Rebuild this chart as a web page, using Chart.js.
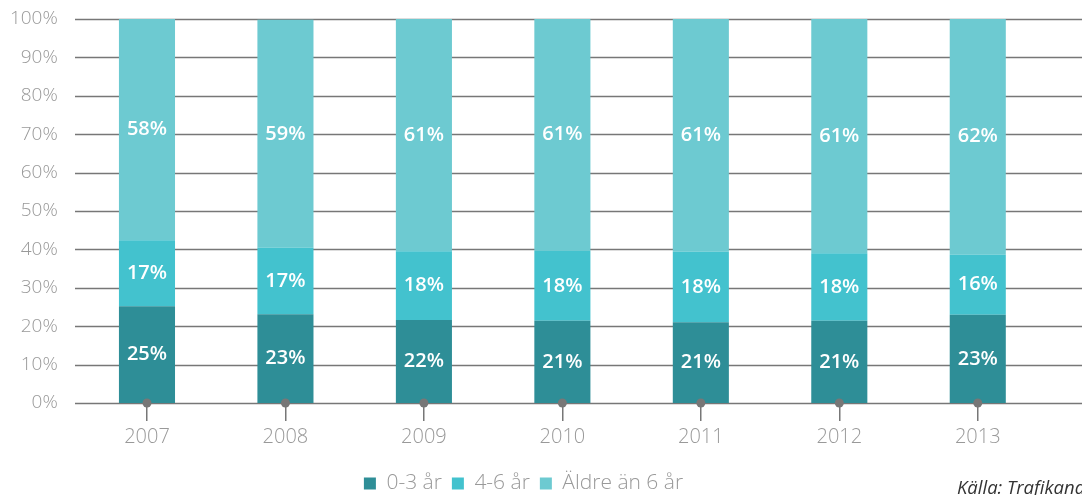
<!DOCTYPE html>
<html>
<head>
<meta charset="utf-8">
<script src="https://cdn.jsdelivr.net/npm/chart.js@4"></script>
<style>
  html, body { margin: 0; padding: 0; background: #fff; overflow: hidden; }
  #wrap { position: relative; width: 1082px; height: 495px; overflow: hidden; }
  #source {
    position: absolute; left: 957px; top: 474px; white-space: nowrap;
    font-family: 'Open Sans', sans-serif; font-style: italic; font-size: 18.5px; color: #333;
  }
</style>
</head>
<body>
<div id="wrap">
  <canvas id="chart" width="1082" height="495"></canvas>
  <div id="source">Källa: Trafikanalys</div>
</div>
<script>
const years = ['2007', '2008', '2009', '2010', '2011', '2012', '2013'];
const age0to3 = [25.2, 23.1, 21.6, 21.4, 21.0, 21.4, 23.0];
const age4to6 = [17.2, 17.3, 17.9, 18.2, 18.4, 17.6, 15.6];
const olderThan6 = [57.6, 59.4, 60.5, 60.5, 60.6, 61.0, 61.5];
const seriesNames = ['0-3 år', '4-6 år', 'Äldre än 6 år'];
const seriesColors = ['#2e8e97', '#43c2ce', '#6dcad1'];

const FONT = "'Open Sans', sans-serif";
const GRID = '#777777';

// grid lines across the full width, behind the bars
const gridPlugin = {
    id: 'fullGrid',
    beforeDatasetsDraw(chart) {
        const ctx = chart.ctx;
        const y = chart.scales.y;
        ctx.save();
        ctx.strokeStyle = GRID;
        ctx.lineWidth = 1.3;
        y.ticks.forEach(t => {
            const py = Math.round(y.getPixelForValue(t.value)) + 0.5;
            ctx.beginPath();
            ctx.moveTo(75, py);
            ctx.lineTo(chart.width, py);
            ctx.stroke();
        });
        ctx.restore();
    },
    afterDatasetsDraw(chart) {
        const ctx = chart.ctx;
        ctx.save();
        // value labels in each segment
        ctx.fillStyle = '#ffffff';
        ctx.font = '600 20px ' + FONT;
        ctx.textAlign = 'center';
        ctx.textBaseline = 'middle';
        chart.data.datasets.forEach((ds, i) => {
            const meta = chart.getDatasetMeta(i);
            meta.data.forEach((bar, j) => {
                const cy = (bar.y + bar.base) / 2;
                ctx.fillText(Math.round(ds.data[j]) + '%', bar.x, cy);
            });
        });
        // dots at the base of each bar
        const x = chart.scales.x;
        const base = chart.scales.y.getPixelForValue(0);
        ctx.fillStyle = GRID;
        years.forEach((_, j) => {
            ctx.beginPath();
            ctx.arc(x.getPixelForValue(j), base, 4.5, 0, Math.PI * 2);
            ctx.fill();
        });
        ctx.restore();
    }
};

new Chart(document.getElementById('chart'), {
    type: 'bar',
    data: {
        labels: years,
        datasets: [age0to3, age4to6, olderThan6].map((d, i) => ({
            label: seriesNames[i],
            data: d,
            backgroundColor: seriesColors[i],
            borderWidth: 0,
            categoryPercentage: 1,
            barPercentage: 0.405
        }))
    },
    options: {
        responsive: false,
        animation: false,
        layout: { padding: { top: 19, right: 35, left: 0, bottom: -9 } },
        plugins: {
            legend: {
                position: 'bottom',
                labels: {
                    boxWidth: 12,
                    boxHeight: 12,
                    padding: 10,
                    color: '#999999',
                    font: { family: FONT, size: 21, weight: 300 }
                }
            },
            tooltip: { enabled: false }
        },
        scales: {
            x: {
                stacked: true,
                border: { display: false },
                afterFit(scale) { scale.height = 60; },
                grid: {
                    offset: false,
                    drawOnChartArea: false,
                    drawTicks: true,
                    tickLength: 18,
                    color: GRID,
                    lineWidth: 1.5
                },
                ticks: {
                    color: '#999999',
                    padding: 4,
                    font: { family: FONT, size: 20, weight: 300 }
                }
            },
            y: {
                stacked: true,
                min: 0,
                max: 100,
                border: { display: false },
                grid: { display: false, tickLength: 20 },
                afterFit(scale) { scale.width = 77.75; },
                ticks: {
                    stepSize: 10,
                    padding: 0,
                    color: '#999999',
                    font: { family: FONT, size: 19, weight: 300 },
                    callback: v => v + '%'
                }
            }
        }
    },
    plugins: [gridPlugin]
});
</script>
</body>
</html>
